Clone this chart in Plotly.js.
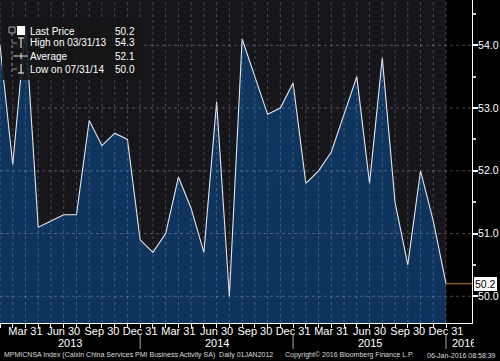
<!DOCTYPE html>
<html>
<head>
<meta charset="utf-8">
<script src="https://cdn.plot.ly/plotly-3.0.1.min.js"></script>
<style>
html,body{margin:0;padding:0;background:#000;}
#chart{width:500px;height:361px;}
</style>
</head>
<body>
<div id="chart"></div>
<script>
// ---- data ----
const dates = [
 "2013-01-31","2013-02-28","2013-03-31","2013-04-30","2013-05-31","2013-06-30",
 "2013-07-31","2013-08-31","2013-09-30","2013-10-31","2013-11-30","2013-12-31",
 "2014-01-31","2014-02-28","2014-03-31","2014-04-30","2014-05-31","2014-06-30",
 "2014-07-31","2014-08-31","2014-09-30","2014-10-31","2014-11-30","2014-12-31",
 "2015-01-31","2015-02-28","2015-03-31","2015-04-30","2015-05-31","2015-06-30",
 "2015-07-31","2015-08-31","2015-09-30","2015-10-31","2015-11-30","2015-12-31"];
const pmi = [
 54.0,52.1,54.3,51.1,51.2,51.3,51.3,52.8,52.4,52.6,52.5,50.9,
 50.7,51.0,51.9,51.4,50.7,53.1,50.0,54.1,53.5,52.9,53.0,53.4,
 51.8,52.0,52.3,52.9,53.5,51.8,53.8,51.5,50.5,52.0,51.2,50.2];
const monthNames = ["Jan","Feb","Mar","Apr","May","Jun","Jul","Aug","Sep","Oct","Nov","Dec"];
const yTickVals = [50,51,52,53,54];
const yTickText = ["50.0","51.0","52.0","53.0","54.0"];
const years = ["2013","2014","2015","2016"];
const legendLabels = ["Last Price","High on 03/31/13","Average","Low on 07/31/14"];
const legendValues = ["50.2","54.3","52.1","50.0"];
const lastPrice = "50.2";
const footerLeft = "MPMICNSA Index (Caixin China Services PMI Business Activity SA)  Daily 01JAN2012";
const footerMid = "Copyright\u00a9 2016 Bloomberg Finance L.P.";
const footerRight = "06-Jan-2016 08:58:39";

// ---- geometry helpers ----
const W = 500, H = 361, ML = 0, MR = 28, MT = 0, MB = 38;
const PW = W - ML - MR, PH = H - MT - MB;
const px = x => (x - ML) / PW;
const py = y => 1 - (y - MT) / PH;

const idx = dates.map((d, i) => i);
const xMax = 37.04;
const yRange = [49.574, 54.722];

// quarter-end ticks
const qVals = [], qText = [];
dates.forEach((d, i) => {
  const m = parseInt(d.slice(5, 7), 10);
  if (m % 3 === 0) { qVals.push(i); qText.push(monthNames[m - 1] + " " + d.slice(8, 10)); }
});

const lastIdx = dates.length - 1;
const shapes = [];
// black region to the right of the last point
shapes.push({type:'rect', xref:'x', yref:'paper', x0:lastIdx, x1:xMax, y0:0, y1:1,
  fillcolor:'#000', line:{width:0}, layer:'below'});
// vertical gridlines (monthly)
idx.forEach(i => shapes.push({type:'line', xref:'x', yref:'paper', x0:i, x1:i, y0:0, y1:1,
  line:{color:'rgba(150,155,170,0.4)', width:1, dash:'dot'}, layer:'above'}));
// horizontal gridlines
yTickVals.forEach(v => shapes.push({type:'line', xref:'paper', yref:'y', x0:0, x1:1, y0:v, y1:v,
  line:{color:'rgba(150,155,170,0.45)', width:1, dash:'dot'}, layer:'above'}));
// last price line
shapes.push({type:'line', xref:'x', yref:'y', x0:lastIdx, x1:xMax, y0:pmi[lastIdx], y1:pmi[lastIdx],
  line:{color:'#c8782c', width:1}, layer:'above'});
// year separators
const yearBounds = [11, 23, 35];
yearBounds.forEach(b => shapes.push({type:'line', xref:'x', yref:'paper', x0:b, x1:b,
  y0:py(335), y1:py(349), line:{color:'#aaa', width:1}}));
// legend box
shapes.push({type:'rect', xref:'paper', yref:'paper', x0:px(2), x1:px(142), y0:py(18), y1:py(80),
  fillcolor:'rgba(22,22,24,0.88)', line:{width:0}, layer:'above'});
// legend icons
shapes.push({type:'line', xref:'paper', yref:'paper', x0:px(12), x1:px(12), y0:py(33), y1:py(76),
  line:{color:'#999', width:1, dash:'dot'}, layer:'above'});
shapes.push({type:'rect', xref:'paper', yref:'paper', x0:px(9), x1:px(15), y0:py(27), y1:py(33),
  fillcolor:'rgba(0,0,0,0)', line:{color:'#aaa', width:1}, layer:'above'});
shapes.push({type:'rect', xref:'paper', yref:'paper', x0:px(17), x1:px(25), y0:py(26), y1:py(35),
  fillcolor:'#fff', line:{width:0}, layer:'above'});
[43, 56, 69].forEach(r => shapes.push({type:'line', xref:'paper', yref:'paper', x0:px(12), x1:px(17),
  y0:py(r), y1:py(r), line:{color:'#999', width:1}, layer:'above'}));
// high icon (T)
shapes.push({type:'line', xref:'paper', yref:'paper', x0:px(18), x1:px(24), y0:py(38), y1:py(38), line:{color:'#fff', width:1}, layer:'above'});
shapes.push({type:'line', xref:'paper', yref:'paper', x0:px(21), x1:px(21), y0:py(38), y1:py(48), line:{color:'#fff', width:1}, layer:'above'});
// average icon
shapes.push({type:'line', xref:'paper', yref:'paper', x0:px(15), x1:px(28), y0:py(56), y1:py(56), line:{color:'#ccc', width:1}, layer:'above'});
shapes.push({type:'line', xref:'paper', yref:'paper', x0:px(21), x1:px(21), y0:py(53), y1:py(59), line:{color:'#fff', width:1}, layer:'above'});
// low icon
shapes.push({type:'line', xref:'paper', yref:'paper', x0:px(21), x1:px(21), y0:py(64), y1:py(73), line:{color:'#fff', width:1}, layer:'above'});
shapes.push({type:'line', xref:'paper', yref:'paper', x0:px(18), x1:px(24), y0:py(73), y1:py(73), line:{color:'#fff', width:1}, layer:'above'});

const font = "Liberation Sans, Arial, sans-serif";
const annotations = [];
const legendRows = [31, 43, 56, 69];
legendLabels.forEach((t, i) => {
  annotations.push({xref:'paper', yref:'paper', x:px(28), y:py(legendRows[i]), xanchor:'left', yanchor:'middle',
    text:t, showarrow:false, font:{family:font, size:10, color:'#fff'}});
  annotations.push({xref:'paper', yref:'paper', x:px(137), y:py(legendRows[i]), xanchor:'right', yanchor:'middle',
    text:legendValues[i], showarrow:false, font:{family:font, size:10, color:'#fff'}});
});
// year labels
const yearCenters = [5.5, 17, 29];
years.slice(0, 3).forEach((y, i) => annotations.push({xref:'x', yref:'paper', x:yearCenters[i], y:py(343),
  xanchor:'center', yanchor:'middle', text:y, showarrow:false, font:{family:font, size:11, color:'#fff'}}));
annotations.push({xref:'x', yref:'paper', x:35.3, y:py(343), xanchor:'left', yanchor:'middle',
  text:years[3], showarrow:false, width:22, align:'left', font:{family:font, size:11, color:'#fff'}});
// last price box
annotations.push({xref:'paper', yref:'y', x:px(474), y:pmi[lastIdx], xanchor:'left', yanchor:'middle',
  text:lastPrice, showarrow:false, bgcolor:'#fff', bordercolor:'#fff', borderpad:0,
  font:{family:font, size:10.5, color:'#000'}});
// footer
annotations.push({xref:'paper', yref:'paper', x:px(2), y:py(355), xanchor:'left', yanchor:'middle',
  text:footerLeft, showarrow:false, font:{family:font, size:7, color:'#ddd'}});
annotations.push({xref:'paper', yref:'paper', x:px(283), y:py(355), xanchor:'left', yanchor:'middle',
  text:footerMid, showarrow:false, font:{family:font, size:7, color:'#ddd'}});
annotations.push({xref:'paper', yref:'paper', x:px(498), y:py(355), xanchor:'right', yanchor:'middle',
  text:footerRight, showarrow:false, font:{family:font, size:7, color:'#ddd'}});

const trace = {
  x: idx, y: pmi, type:'scatter', mode:'lines',
  line:{color:'#e4e8ee', width:1.1},
  fill:'tozeroy',
  fillcolor:'#0b2a50',
  fillgradient:{type:'vertical', colorscale:[[0,'#081d3c'],[1,'#0f3660']]},
  hoverinfo:'skip'
};

const layout = {
  width:W, height:H,
  margin:{l:ML, r:MR, t:MT, b:MB, pad:0},
  paper_bgcolor:'#000',
  plot_bgcolor:'#16161b',
  showlegend:false,
  xaxis:{range:[0, xMax], showgrid:false, zeroline:false, automargin:false,
    tickvals:qVals, ticktext:qText, ticks:'outside', ticklen:4, tickcolor:'#fff',
    ticklabelstandoff:-6,
    minor:{tickvals:idx, ticks:'outside', ticklen:4, tickcolor:'#fff', showgrid:false},
    showline:true, linecolor:'#fff', linewidth:1,
    tickfont:{family:font, size:11, color:'#fff'}},
  yaxis:{range:yRange, side:'right', showgrid:false, zeroline:false, automargin:false,
    tickvals:yTickVals, ticktext:yTickText, ticks:'outside', ticklen:5, tickwidth:2, tickcolor:'#fff',
    ticklabelstandoff:-2,
    minor:{dtick:0.5, ticks:'outside', ticklen:3, tickcolor:'#ccc', showgrid:false},
    showline:true, linecolor:'#fff', linewidth:1,
    tickfont:{family:font, size:10.5, color:'#fff'}},
  shapes:shapes,
  annotations:annotations
};

Plotly.newPlot('chart', [trace], layout, {staticPlot:true, displayModeBar:false});
</script>
</body>
</html>
